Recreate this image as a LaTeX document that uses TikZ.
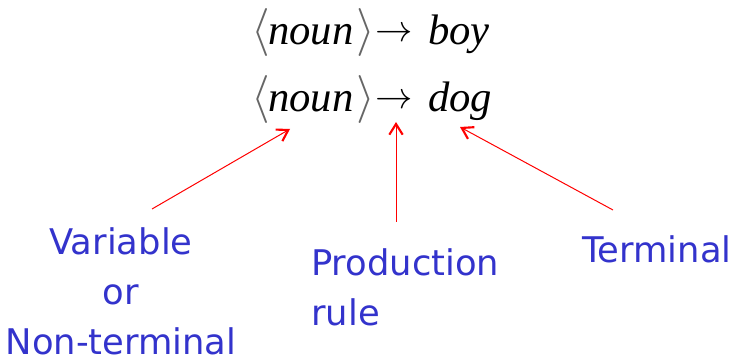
\documentclass[tikz,border=0pt]{standalone}
\usepackage{fontspec}
\setmainfont{Liberation Serif}
\newfontfamily\lblfont{DejaVu Sans}
\usetikzlibrary{arrows.meta}
\definecolor{lblblue}{RGB}{51,51,204}
\definecolor{arrred}{RGB}{255,0,0}
\tikzset{
  frm/.style={inner sep=0pt, anchor=base west, font=\fontsize{32}{38}\selectfont\itshape},
  brk/.style={inner sep=0pt, anchor=base west, text=black!60},
  sym/.style={inner sep=0pt, anchor=base west},
  lbl/.style={inner sep=0pt, text=lblblue, font=\lblfont\fontsize{26.5}{37.5}\selectfont},
  redarr/.style={draw=arrred, line width=0.75pt, -{Straight Barb[length=8pt,width=10pt,line width=1.6pt]}}
}
\begin{document}
\begin{tikzpicture}[x=0.75pt,y=-0.75pt]
\useasboundingbox (0,0) rectangle (739,359);
% line 1
\node[brk] (la) at (251,45) {\scalebox{3.6}{$\langle$}};
\node[frm] (na) at (268,45) {noun};
\node[brk] (ra) at (356,45) {\scalebox{3.6}{$\rangle$}};
\node[sym] (aa) at (375,42) {\scalebox{2.8}{$\rightarrow$}};
\node[frm] (ta) at (428,45) {boy};
% line 2
\node[brk] (lb) at (251,112) {\scalebox{3.6}{$\langle$}};
\node[frm] (nb) at (268,112) {noun};
\node[brk] (rb) at (356,112) {\scalebox{3.6}{$\rangle$}};
\node[sym] (ab) at (375,109) {\scalebox{2.8}{$\rightarrow$}};
\node[frm] (tb) at (428,112) {dog};
% labels
\node[lbl, align=center, anchor=north] (var) at (121,227) {Variable\\or\\Non-terminal};
\node[lbl, align=left, anchor=north west] (prod) at (311,248) {Production\\rule};
\node[lbl, anchor=north west] (term) at (582,235) {Terminal};
% arrows
\coordinate (v0) at (152,209);
\coordinate (v1) at (290,129);
\coordinate (p0) at (396,222);
\coordinate (p1) at (396,122);
\coordinate (t0) at (613,210);
\coordinate (t1) at (460,127);
\draw[redarr] (v0) -- (v1);
\draw[redarr] (p0) -- (p1);
\draw[redarr] (t0) -- (t1);
\end{tikzpicture}
\end{document}
